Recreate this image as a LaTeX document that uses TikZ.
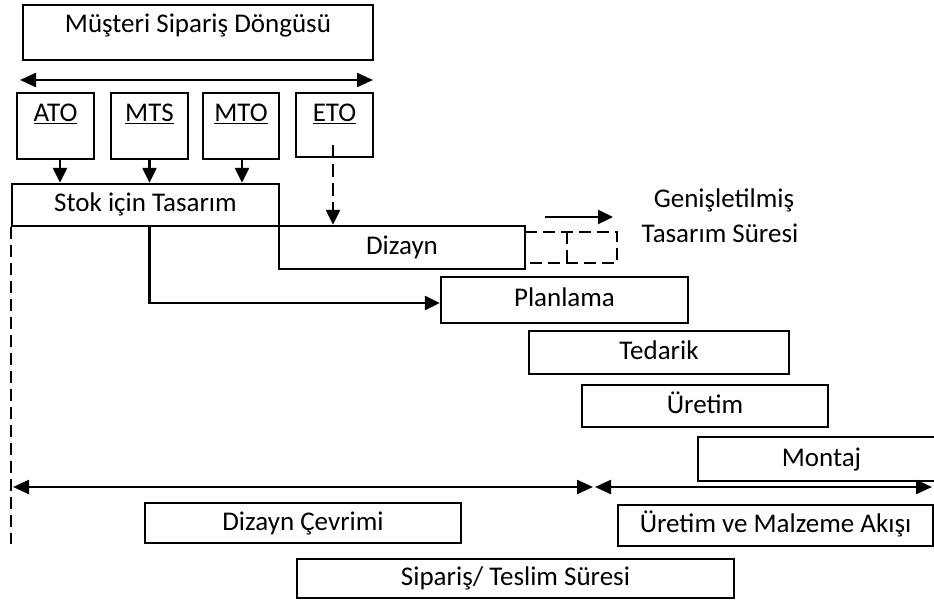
\documentclass[tikz,border=0pt]{standalone}
\usepackage{fontspec}
\setmainfont{Carlito}
\usetikzlibrary{arrows.meta}
\begin{document}
\begin{tikzpicture}[x=1pt,y=-1pt,
  line width=2.4pt,
  box/.style={draw, rectangle, inner sep=0pt, text height=20pt, text depth=6pt,
    font=\fontsize{27}{32}\selectfont},
  topbox/.style={box, minimum width=77pt, minimum height=66pt, text depth=28pt},
  lbl/.style={anchor=base, inner sep=0pt, font=\fontsize{27}{32}\selectfont},
  tip/.style={-{Triangle[length=15pt,width=14pt]}},
  twotip/.style={{Triangle[length=16pt,width=14pt]}-{Triangle[length=16pt,width=14pt]}},
  dash long/.style={dash pattern=on 12pt off 6pt}]
\clip (0,0) rectangle (934,601);

% order cycle and the four strategies
\node[box, minimum width=350pt, minimum height=55pt, text depth=19pt] (cycle) at (198,32.5) {Müşteri Sipariş Döngüsü};
\coordinate (cycL) at (20,80);
\coordinate (cycR) at (373,80);
\draw[twotip] (cycL) -- (cycR);

\node[topbox] (ato) at (55.5,126) {\underline{ATO}};
\node[topbox] (mts) at (149.5,126) {\underline{MTS}};
\node[topbox, minimum width=76pt] (mto) at (241,126) {\underline{MTO}};
\node[topbox, minimum height=64pt, text depth=26pt] (eto) at (334.5,125) {\underline{ETO}};

% design stages
\node[box, minimum width=267pt, minimum height=42pt] (stok) at (145.5,205) {Stok için Tasarım};
\node[box, minimum width=246pt, minimum height=43pt] (dizayn) at (402,247.5) {Dizayn};

\draw[tip] ([xshift=4.5pt]ato.south) -- ([xshift=4.5pt]ato.south |- stok.north);
\draw[tip] (mts.south) -- (mts.south |- stok.north);
\draw[tip] ([xshift=1pt]mto.south) -- ([xshift=1pt]mto.south |- stok.north);

\coordinate (etoStart) at (333,145);
\draw[tip, dash pattern=on 13pt off 6pt] (etoStart) -- (etoStart |- dizayn.north);

% extended design time
\coordinate (extA) at (525,232);
\coordinate (extB) at (617,232);
\coordinate (extC) at (617,263);
\coordinate (extD) at (525,263);
\coordinate (extM) at (567,232);
\draw[dash long] (extA) -- (extB) -- (extC) -- (extD);
\draw[dash long] (extM) -- (extM |- extC);
\coordinate (gA) at (545,217);
\coordinate (gB) at (613,217);
\draw[tip] (gA) -- (gB);
\node[lbl] (ext1) at (724,208) {Genişletilmiş};
\node[lbl] (ext2) at (720,243) {Tasarım Süresi};

% production stages
\node[box, minimum width=247pt, minimum height=46pt] (plan) at (564.5,300) {Planlama};
\node[box, minimum width=260pt, minimum height=43pt] (ted) at (659,352.5) {Tedarik};
\node[box, minimum width=246pt, minimum height=42pt] (ure) at (705,406) {Üretim};
\node[box, minimum width=247pt, minimum height=44pt] (mon) at (821.5,459) {Montaj};

\draw[tip] (mts.south |- stok.south) |- ([yshift=-3pt]plan.west);

% time spans
\draw[dash long] (stok.south west) -- ++(0,317);
\coordinate (spanL) at (13,487);
\coordinate (spanM1) at (593,487);
\coordinate (spanM2) at (595,487);
\coordinate (spanR) at (932,487);
\draw[twotip] (spanL) -- (spanM1);
\draw[twotip] (spanM2) -- (spanR);

\node[box, minimum width=316pt, minimum height=40pt] (dc) at (303,523) {Dizayn Çevrimi};
\node[box, minimum width=315pt, minimum height=41pt] (uma) at (775.5,525.5) {Üretim ve Malzeme Akışı};
\node[box, minimum width=437pt, minimum height=39pt] (sts) at (515.5,578.5) {Sipariş/ Teslim Süresi};
\end{tikzpicture}
\end{document}
